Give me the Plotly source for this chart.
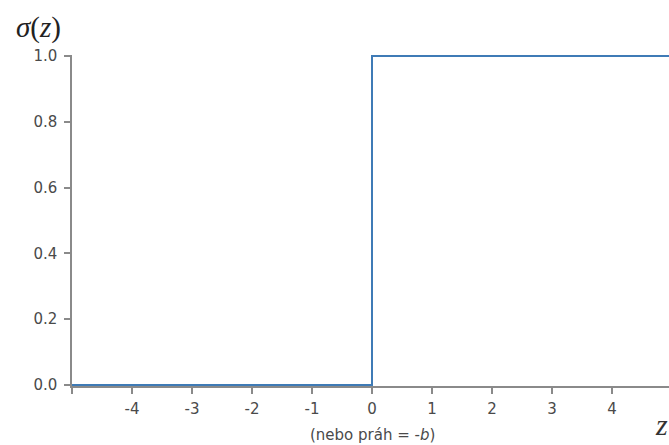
import plotly.graph_objects as go

# Data: step function sigma(z)
z_points = [-5, 0, 5]
sigma_points = [0, 1, 1]
x_tick_vals = [-5, -4, -3, -2, -1, 0, 1, 2, 3, 4]
x_tick_text = ["", "-4", "-3", "-2", "-1", "0", "1", "2", "3", "4"]
y_tick_vals = [0, 0.2, 0.4, 0.6, 0.8, 1.0]
y_tick_text = ["0.0", "0.2", "0.4", "0.6", "0.8", "1.0"]

W, H = 669, 445
ML, MT, MB, MR = 72, 55, 59, 0
PW = W - ML - MR
PH = H - MT - MB

def px(xp):
    return (xp - ML) / PW

def py(yp):
    return (H - MB - yp) / PH

fig = go.Figure()
fig.add_trace(go.Scatter(
    x=z_points, y=sigma_points, mode="lines", line_shape="hv",
    line=dict(color="#3f7bb6", width=2), showlegend=False, hoverinfo="skip",
))

axis_common = dict(
    showgrid=False, zeroline=False, showline=True, linecolor="#8a8a8a", linewidth=1.5,
    ticks="outside", ticklen=6, tickcolor="#8a8a8a", tickwidth=1.5,
    tickfont=dict(family="DejaVu Sans", size=15, color="#4a4a4a"),
)

fig.update_layout(
    width=W, height=H,
    margin=dict(l=ML, r=MR, t=MT, b=MB, pad=0),
    paper_bgcolor="white", plot_bgcolor="white",
    xaxis=dict(range=[-5, 4.95], tickmode="array", tickvals=x_tick_vals,
               ticktext=x_tick_text, ticklabelstandoff=2, **axis_common),
    yaxis=dict(range=[-0.003, 1.003], tickmode="array", tickvals=y_tick_vals,
               ticktext=y_tick_text, ticklabelstandoff=4, **axis_common),
    annotations=[
        dict(text="<i>σ</i>(<i>z</i>)", xref="paper", yref="paper",
             xanchor="center", yanchor="middle",
             x=px(38), y=py(28), showarrow=False,
             font=dict(family="Liberation Serif", size=29, color="#222")),
        dict(text="<i>z</i>", xref="paper", yref="paper",
             xanchor="left", yanchor="middle",
             x=px(653), y=py(424), showarrow=False,
             font=dict(family="Liberation Serif", size=30, color="#333")),
        dict(text="(nebo práh = -<i>b</i>)", xref="x", yref="paper",
             xanchor="center", yanchor="middle",
             x=0, y=py(435), showarrow=False,
             font=dict(family="DejaVu Sans", size=15, color="#4a4a4a")),
    ],
)

fig.write_html("out.html")
